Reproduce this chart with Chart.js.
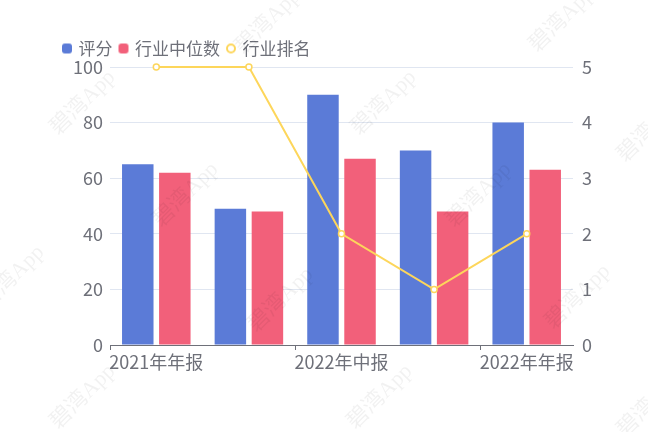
<!DOCTYPE html>
<html>
<head>
<meta charset="utf-8">
<script src="https://cdn.jsdelivr.net/npm/chart.js@4"></script>
<style>
  html, body { margin: 0; padding: 0; background: #fff; }
  #wrap { width: 648px; height: 432px; position: relative; }
</style>
</head>
<body>
<div id="wrap"><canvas id="chart"></canvas></div>
<script>
const categories = ["2021年年报", "2022年一季报", "2022年中报", "2022年三季报", "2022年年报"];
const scoreValues = [65, 49, 90, 70, 80];
const medianValues = [62, 48, 67, 48, 63];
const rankValues = [5, 5, 2, 1, 2];
const leftTicks = [0, 20, 40, 60, 80, 100];
const rightTicks = [0, 1, 2, 3, 4, 5];

const textColor = "#6e7079";
const fontFamily = "'Noto Sans CJK SC', 'Noto Sans', sans-serif";
const blue = "#5b7bd7";
const red = "#f2607a";
const yellow = "#fdd65b";

// little legend markers: rounded squares for the bars, hollow ring for the line
function marker(kind, color) {
  const c = document.createElement("canvas");
  c.width = 12;
  c.height = 12;
  const g = c.getContext("2d");
  if (kind === "rect") {
    g.fillStyle = color;
    g.beginPath();
    g.roundRect(1, 1, 10, 10, 3);
    g.fill();
  } else {
    g.strokeStyle = color;
    g.lineWidth = 2;
    g.fillStyle = "#fff";
    g.beginPath();
    g.arc(6, 6, 4, 0, Math.PI * 2);
    g.fill();
    g.stroke();
  }
  return c;
}
const legendMarks = [marker("rect", blue), marker("rect", red), marker("ring", yellow)];

// faint diagonal "碧湾App" watermark, drawn over everything like the original
const watermark = {
  id: "watermark",
  afterDraw(chart) {
    const ctx = chart.ctx;
    const spots = [
      [268, 22], [562, 20],
      [83, 103], [384, 103], [650, 130],
      [186, 195], [479, 195],
      [12, 278], [281, 300], [578, 297],
      [83, 397], [380, 397], [650, 405],
    ];
    ctx.save();
    ctx.font = "22px 'Liberation Serif', 'Noto Sans CJK SC', serif";
    ctx.fillStyle = "rgba(0, 0, 0, 0.055)";
    ctx.textAlign = "center";
    ctx.textBaseline = "middle";
    for (const [x, y] of spots) {
      ctx.save();
      ctx.translate(x, y);
      ctx.rotate(-Math.PI / 4);
      ctx.fillText("碧湾App", 0, 0);
      ctx.restore();
    }
    ctx.restore();
  },
};

new Chart(document.getElementById("chart"), {
  type: "bar",
  data: {
    labels: categories,
    datasets: [
      {
        label: "评分",
        data: scoreValues,
        backgroundColor: blue,
        categoryPercentage: 0.8,
        barPercentage: 0.85,
        yAxisID: "y",
        order: 1,
      },
      {
        label: "行业中位数",
        data: medianValues,
        backgroundColor: red,
        categoryPercentage: 0.8,
        barPercentage: 0.85,
        yAxisID: "y",
        order: 1,
      },
      {
        type: "line",
        label: "行业排名",
        data: rankValues,
        borderColor: yellow,
        backgroundColor: "#ffffff",
        borderWidth: 2,
        pointStyle: "circle",
        pointRadius: 3,
        pointBorderWidth: 1.5,
        pointBackgroundColor: "#ffffff",
        pointBorderColor: yellow,
        tension: 0,
        clip: 8,
        yAxisID: "y1",
        order: 0,
      },
    ],
  },
  options: {
    responsive: true,
    maintainAspectRatio: false,
    animation: false,
    layout: { padding: { top: 32, left: 56, right: 0, bottom: 0 } },
    plugins: {
      tooltip: { enabled: false },
      legend: {
        position: "top",
        align: "start",
        labels: {
          usePointStyle: true,
          boxWidth: 6,
          boxHeight: 10,
          padding: 8,
          color: textColor,
          font: { family: fontFamily, size: 17 },
          sort: (a, b) => a.datasetIndex - b.datasetIndex,
          generateLabels: (chart) => {
            const items = Chart.defaults.plugins.legend.labels.generateLabels(chart);
            items.forEach((it) => { it.pointStyle = legendMarks[it.datasetIndex]; });
            return items;
          },
        },
      },
    },
    scales: {
      x: {
        grid: {
          offset: true,
          drawOnChartArea: false,
          tickLength: 5,
          tickColor: (c) => (c.index % 2 === 0 || c.index === categories.length ? textColor : "rgba(0,0,0,0)"),
        },
        border: { color: textColor, width: 1 },
        ticks: {
          autoSkip: false,
          maxRotation: 0,
          padding: 1,
          color: textColor,
          font: { family: fontFamily, size: 18 },
          callback: (v, i) => (i % 2 === 0 ? categories[i] : ""),
        },
        afterFit: (s) => { s.height = 87; },
      },
      y: {
        position: "left",
        min: leftTicks[0],
        max: leftTicks[leftTicks.length - 1],
        afterBuildTicks: (s) => { s.ticks = leftTicks.map((v) => ({ value: v })); },
        grid: { color: "#e0e6f1", drawTicks: false },
        border: { display: false },
        ticks: {
          padding: 7,
          color: textColor,
          font: { family: fontFamily, size: 18 },
        },
        afterFit: (s) => { s.width = 54; },
      },
      y1: {
        position: "right",
        min: rightTicks[0],
        max: rightTicks[rightTicks.length - 1],
        afterBuildTicks: (s) => { s.ticks = rightTicks.map((v) => ({ value: v })); },
        grid: { drawOnChartArea: false, drawTicks: false },
        border: { display: false },
        ticks: {
          padding: 9,
          color: textColor,
          font: { family: fontFamily, size: 18 },
        },
        afterFit: (s) => { s.width = 75; },
      },
    },
  },
  plugins: [watermark],
});
</script>
</body>
</html>
